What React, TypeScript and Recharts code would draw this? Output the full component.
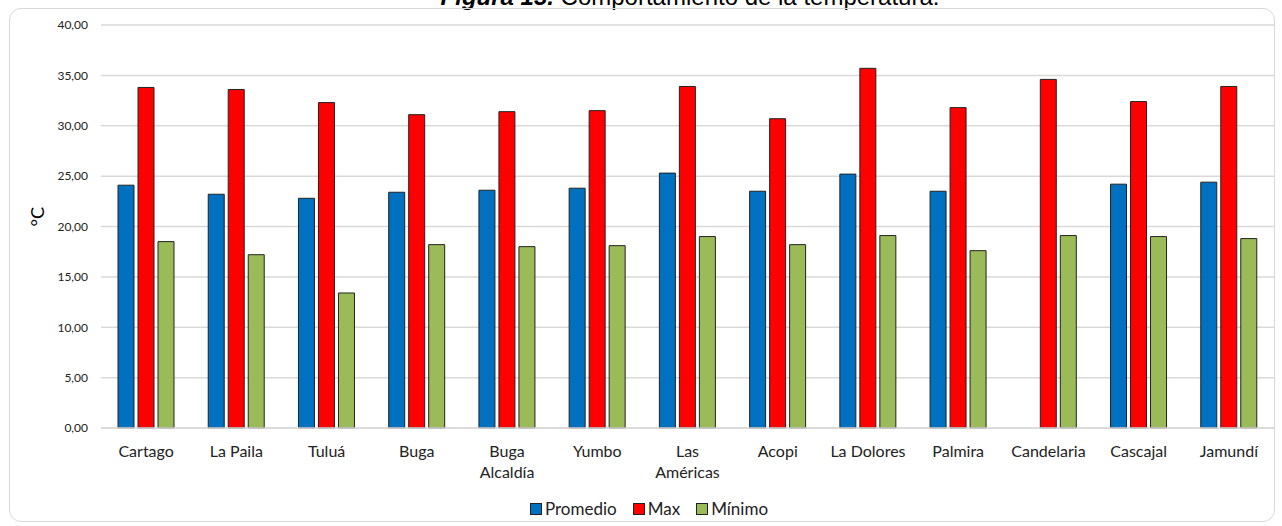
import React from 'react';
import { BarChart, Bar, XAxis, YAxis, CartesianGrid, Legend } from 'recharts';

const stations = ['Cartago', 'La Paila', 'Tuluá', 'Buga', 'Buga\nAlcaldía', 'Yumbo', 'Las\nAméricas', 'Acopi', 'La Dolores', 'Palmira', 'Candelaria', 'Cascajal', 'Jamundí'];
const promedio = [24.1, 23.2, 22.8, 23.4, 23.6, 23.8, 25.3, 23.5, 25.2, 23.5, null, 24.2, 24.4];
const maximo = [33.8, 33.6, 32.3, 31.1, 31.4, 31.5, 33.9, 30.7, 35.7, 31.8, 34.6, 32.4, 33.9];
const minimo = [18.5, 17.2, 13.4, 18.2, 18.0, 18.1, 19.0, 18.2, 19.1, 17.6, 19.1, 19.0, 18.8];
const yTicks = [0, 5, 10, 15, 20, 25, 30, 35, 40];

const series = [
  { key: 'promedio', name: 'Promedio', color: '#0070C0' },
  { key: 'max', name: 'Max', color: '#FF0000' },
  { key: 'minimo', name: 'Mínimo', color: '#9BBB59' },
];

const data = stations.map((name, i) => ({
  name,
  promedio: promedio[i],
  max: maximo[i],
  minimo: minimo[i],
}));

const FONT = 'Lato, "Open Sans", sans-serif';

const CategoryTick = (props: any) => {
  const { x, y, payload } = props;
  const lines = String(payload.value).split('\n');
  return (
    <g transform={`translate(${x},${y})`}>
      {lines.map((l, i) => (
        <text key={i} x={0} y={i * 21} dy={21} textAnchor="middle" fill="#222" fontSize={16} fontFamily={FONT}>
          {l}
        </text>
      ))}
    </g>
  );
};

// legend keeps the series order (recharts would sort it by name)
const LegendContent = () => (
  <div style={{ display: 'flex', justifyContent: 'center', gap: 16, fontFamily: FONT, fontSize: 17, color: '#222', marginLeft: 24 }}>
    {series.map(s => (
      <div key={s.key} style={{ display: 'flex', alignItems: 'center', gap: 3 }}>
        <span style={{ width: 10, height: 10, background: s.color, border: '1px solid #222', display: 'inline-block' }} />
        <span>{s.name}</span>
      </div>
    ))}
  </div>
);

export default function App() {
  return (
    <div style={{ position: 'absolute', left: 0, top: 0, width: 1282, height: 526, background: '#fff', overflow: 'hidden' }}>
      <div style={{ position: 'absolute', left: 0, width: 1282, top: -17, textAlign: 'center', fontFamily: '"Liberation Sans", Arial, sans-serif', fontSize: 24, color: '#000', paddingLeft: 98, boxSizing: 'border-box' }}>
        <b><i>Figura 13.</i></b> Comportamiento de la temperatura.
      </div>
      <div style={{ position: 'absolute', left: 9, top: 8, width: 1266, height: 514, border: '1px solid #d9d9d9', borderRadius: 12, boxSizing: 'border-box' }} />
      <div style={{ position: 'absolute', left: 0, top: 0 }}>
        <BarChart width={1282} height={526} data={data} margin={{ top: 25, right: 8, left: 0, bottom: 4 }} barSize={16} barGap={4}>
          <CartesianGrid vertical={false} stroke="#d9d9d9" strokeWidth={1.5} />
          <XAxis dataKey="name" tick={<CategoryTick />} tickLine={false} axisLine={{ stroke: '#d9d9d9', strokeWidth: 1.5 }} interval={0} height={70} />
          <YAxis
            width={101}
            domain={[0, 40]}
            ticks={yTicks}
            tickFormatter={(v: number) => v.toFixed(2).replace('.', ',')}
            tick={{ fill: '#222', fontSize: 12, fontFamily: FONT }}
            tickLine={false}
            tickSize={0}
            tickMargin={13}
            axisLine={false}
            label={{ value: '°C', angle: -90, position: 'insideLeft', offset: 38, style: { fontSize: 18, fill: '#000', fontFamily: FONT } }}
          />
          <Legend content={<LegendContent />} verticalAlign="bottom" height={24} />
          {series.map(s => (
            <Bar key={s.key} dataKey={s.key} name={s.name} fill={s.color} stroke="#222" strokeWidth={1} isAnimationActive={false} />
          ))}
        </BarChart>
      </div>
    </div>
  );
}
